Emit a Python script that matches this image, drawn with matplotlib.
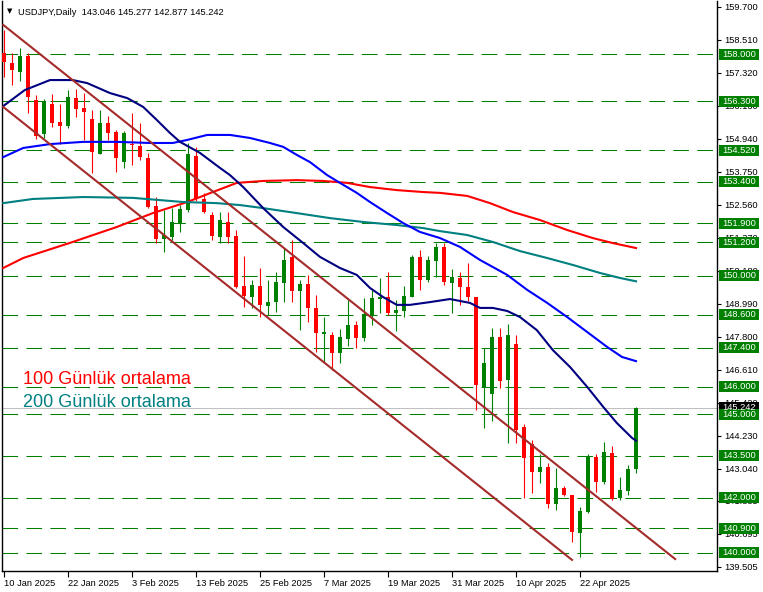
import matplotlib.pyplot as plt
import matplotlib.transforms as mtransforms
from matplotlib.patches import Rectangle

plt.rcParams['font.family'] = ['Liberation Sans', 'DejaVu Sans']

# daily candles, 10 Jan 2025 -> 1 May 2025 (bar index = trading day)
opens = [158.04, 157.68, 157.35, 157.93, 156.34, 155.11, 156.20, 155.55, 155.40, 156.41,
         156.05, 155.66, 154.39, 155.51, 155.19, 154.10, 154.72, 154.68, 154.25, 152.52,
         151.33, 151.40, 151.87, 152.37, 154.32, 152.77, 152.19, 151.40, 151.94, 151.43,
         149.63, 149.23, 149.63, 148.91, 149.05, 149.74, 150.68, 149.45, 149.70, 148.84,
         147.90, 147.86, 147.21, 147.72, 148.22, 147.75, 148.55, 149.16, 149.23, 148.66,
         148.73, 149.23, 150.68, 149.85, 150.53, 151.04, 149.74, 149.92, 149.59, 149.23,
         145.99, 145.73, 147.79, 146.24, 147.54, 144.54, 143.93, 142.92, 143.10, 141.77,
         142.34, 142.09, 140.72, 141.48, 143.46, 142.56, 143.61, 141.98, 142.24, 143.046]
highs = [158.87, 158.04, 158.22, 158.04, 156.52, 156.38, 156.56, 156.20, 156.70, 156.74,
         156.59, 155.98, 155.98, 155.76, 155.26, 155.22, 155.87, 155.51, 154.43, 152.84,
         152.37, 152.44, 152.55, 154.79, 154.65, 152.99, 152.30, 152.30, 152.30, 151.65,
         150.71, 149.85, 150.28, 149.85, 150.14, 151.00, 151.29, 149.85, 150.03, 149.31,
         148.51, 147.97, 148.08, 149.13, 148.37, 149.20, 149.49, 149.92, 150.14, 149.13,
         149.63, 150.75, 150.93, 150.71, 151.18, 151.18, 150.24, 150.14, 150.46, 149.23,
         147.39, 148.12, 148.12, 148.26, 147.86, 144.65, 144.07, 143.57, 143.25, 143.07,
         142.42, 142.09, 141.66, 143.57, 143.57, 144.00, 143.86, 142.74, 143.17, 145.277]
lows = [157.17, 156.88, 157.03, 155.87, 154.95, 154.97, 155.37, 154.75, 155.33, 155.73,
        154.90, 153.71, 154.39, 154.90, 153.74, 153.89, 154.00, 154.18, 152.44, 151.18,
        150.86, 151.29, 151.58, 152.30, 152.70, 152.26, 151.29, 151.18, 151.18, 149.56,
        148.87, 148.84, 148.51, 148.58, 148.69, 149.05, 149.05, 148.04, 148.33, 147.25,
        146.89, 146.60, 146.85, 147.47, 147.39, 147.65, 148.22, 148.66, 148.58, 147.99,
        148.51, 149.23, 149.49, 149.77, 149.96, 149.67, 148.66, 148.95, 149.09, 145.16,
        144.51, 144.76, 145.95, 143.97, 143.97, 141.98, 142.16, 142.52, 141.62, 141.55,
        142.05, 140.40, 139.85, 141.44, 142.20, 142.49, 141.91, 141.91, 142.09, 142.877]
closes = [157.71, 157.42, 157.93, 156.45, 155.04, 156.30, 155.51, 155.40, 156.45, 156.02,
          155.91, 154.46, 155.51, 155.15, 154.25, 155.15, 154.70, 154.28, 152.48, 151.33,
          151.47, 151.94, 152.41, 154.39, 152.77, 152.30, 151.43, 152.01, 151.40, 149.59,
          149.27, 149.67, 148.95, 149.05, 149.77, 150.57, 149.45, 149.70, 148.84, 147.94,
          147.97, 147.21, 147.79, 148.22, 147.75, 148.62, 149.20, 149.23, 148.66, 148.76,
          149.27, 150.68, 149.85, 150.57, 151.04, 149.77, 149.96, 149.59, 149.23, 146.06,
          146.85, 147.79, 146.20, 147.86, 144.44, 143.43, 142.92, 143.10, 141.77, 142.34,
          142.09, 140.76, 141.51, 143.46, 142.56, 143.64, 141.95, 142.27, 143.03, 145.242]
bars = list(range(len(opens)))

date_ticks = [0, 8, 16, 24, 32, 40, 48, 56, 64, 72]
date_labels = ['10 Jan 2025', '22 Jan 2025', '3 Feb 2025', '13 Feb 2025', '25 Feb 2025',
               '7 Mar 2025', '19 Mar 2025', '31 Mar 2025', '10 Apr 2025', '22 Apr 2025']

# moving averages (bar, price)
ma20_x = [-0.1, 2.6, 5.75, 8.6, 10.4, 13.25, 15.4, 17.4, 19.1, 20.75, 22, 24.5, 27, 28.25, 29.9,
          32.4, 34.9, 37.4, 39.5, 42, 44.1, 45.75, 47.4, 49.1, 50.75, 53.25, 55.75, 58.25, 59.5,
          61.1, 62.9, 64.5, 66.6, 68.6, 70.75, 72.9, 74.9, 76.6, 78.5, 79]
ma20_y = [156.12, 156.70, 157.06, 157.06, 156.95, 156.59, 156.41, 156.09, 155.62, 155.15, 154.83,
          154.43, 153.89, 153.63, 153.20, 152.44, 151.76, 151.18, 150.68, 150.28, 150.03, 149.56,
          149.23, 148.95, 148.95, 149.05, 149.16, 149.02, 148.84, 148.84, 148.73, 148.51, 148.04,
          147.32, 146.71, 145.99, 145.27, 144.69, 144.15, 144.05]
ma50_x = [-0.1, 2.4, 5.75, 9.9, 14.1, 18.25, 21.1, 22.9, 25.4, 28.25, 30.75, 33.25, 34.9, 36.6,
          38.25, 40.4, 42, 44.1, 45.75, 47.9, 49.9, 52, 54.5, 57, 59.5, 62.9, 65.4, 67.9, 70.4,
          72.9, 75.4, 77.25, 79]
ma50_y = [154.28, 154.61, 154.75, 154.83, 154.83, 154.79, 154.79, 154.90, 155.08, 155.08, 154.97,
          154.79, 154.65, 154.36, 154.10, 153.63, 153.35, 152.99, 152.66, 152.26, 151.90, 151.58,
          151.36, 151.04, 150.57, 150.03, 149.49, 149.02, 148.51, 147.97, 147.43, 147.07, 146.92]
ma100_x = [-0.1, 2.4, 8.6, 14.1, 18.6, 22.9, 26.1, 29.1, 32.4, 36.6, 39.9, 42.9, 45.75, 49.1,
           52.4, 54.5, 57.9, 60.75, 63.6, 67, 70.4, 73.6, 76.1, 79]
ma100_y = [150.28, 150.64, 151.22, 151.76, 152.26, 152.66, 153.02, 153.35, 153.42, 153.45, 153.42,
           153.35, 153.20, 153.09, 153.02, 152.99, 152.88, 152.62, 152.30, 152.01, 151.65, 151.36,
           151.18, 151.00]
ma200_x = [-0.1, 3.6, 9.9, 16.1, 22.4, 26.6, 29.5, 32.4, 36.6, 40.75, 44.9, 49.1, 52.4, 54.5,
           57.9, 61.1, 64.5, 67.9, 71.1, 74.5, 77, 79]
ma200_y = [152.62, 152.77, 152.84, 152.81, 152.66, 152.62, 152.55, 152.44, 152.26, 152.08, 151.94,
           151.83, 151.72, 151.61, 151.47, 151.22, 150.89, 150.64, 150.39, 150.10, 149.92, 149.80]

# trend channel (bar, price)
chan_top_x = [-0.1, 83.9]
chan_top_y = [159.05, 139.78]
chan_bot_x = [-0.1, 71.0]
chan_bot_y = [156.09, 139.75]

levels = [158.0, 156.3, 154.52, 153.4, 151.9, 151.2, 150.0, 148.6, 147.4, 146.0,
          145.0, 143.5, 142.0, 140.9, 140.0]
price_ticks = [159.700, 158.510, 157.320, 156.130, 154.940, 153.750, 152.560, 151.370, 150.180,
               148.990, 147.800, 146.610, 145.420, 144.230, 143.040, 141.885, 140.695, 139.505]
last_price = 145.242

green = '#008000'
red = '#FF0000'

fig = plt.figure(figsize=(7.63, 5.92), dpi=100)
ax = fig.add_axes([2 / 763, 21 / 592, 715 / 763, 570 / 592])
ax.set_xlim(-0.25, 89.125)
ax.set_ylim(139.349, 159.912)

# horizontal levels + current price line
for lv in levels:
    ax.axhline(lv, color=green, lw=0.75, ls=(0, (15, 8)), zorder=1)
ax.axhline(last_price, color='#C0C0C0', lw=0.75, zorder=1)

# candles
cols = [green if c >= o else red for o, c in zip(opens, closes)]
body_lo = [min(o, c) for o, c in zip(opens, closes)]
body_h = [max(abs(c - o), 0.04) for o, c in zip(opens, closes)]
ax.vlines(bars, lows, highs, colors=cols, lw=0.8, zorder=2)
ax.bar(bars, body_h, bottom=body_lo, width=0.62, color=cols, linewidth=0, zorder=3)

# moving averages
ax.plot(ma100_x, ma100_y, color='#FF0000', lw=1.5, zorder=4)
ax.plot(ma200_x, ma200_y, color='#008080', lw=1.5, zorder=4)
ax.plot(ma50_x, ma50_y, color='#0000FF', lw=1.5, zorder=4)
ax.plot(ma20_x, ma20_y, color='#000080', lw=1.5, zorder=4)

# channel
ax.plot(chan_top_x, chan_top_y, color='#A52A2A', lw=1.5, zorder=4)
ax.plot(chan_bot_x, chan_bot_y, color='#A52A2A', lw=1.5, zorder=4)

# axes look (MT4 style)
ax.spines['top'].set_visible(False)
for s in ['left', 'right', 'bottom']:
    ax.spines[s].set_linewidth(1.0)
ax.yaxis.tick_right()
ax.set_yticks(price_ticks)
ax.set_yticklabels([f'{v:.3f}' for v in price_ticks])
ax.tick_params(axis='y', length=3, width=0.8, pad=2, labelsize=6.7)
ax.set_xticks(date_ticks)
ax.set_xticklabels(date_labels, ha='left')
ax.tick_params(axis='x', length=4, width=0.8, pad=2, labelsize=6.7)

# price labels on the right
trans = mtransforms.blended_transform_factory(ax.transAxes, ax.transData)
box_x = (719 - 2) / 715
box_w = 40 / 715
box_h = 11 * (ax.get_ylim()[1] - ax.get_ylim()[0]) / 570


def price_box(val, fc):
    ax.add_patch(Rectangle((box_x, val - box_h / 2), box_w, box_h, transform=trans,
                           facecolor=fc, edgecolor='none', clip_on=False, zorder=5))
    ax.text(box_x + box_w / 2, val, f'{val:.3f}', transform=trans, ha='center', va='center',
            color='white', fontsize=6.7, clip_on=False, zorder=6)


price_box(last_price, 'black')
for lv in levels:
    price_box(lv, green)

# header + legend texts
fig.text(7 / 763, 1 - 11 / 592, '\u25bc', fontsize=5, color='black', va='center',
         family='DejaVu Sans')
fig.text(18 / 763, 1 - 15 / 592,
         f'USDJPY,Daily  {opens[-1]:.3f} {highs[-1]:.3f} {lows[-1]:.3f} {closes[-1]:.3f}',
         fontsize=6.7, color='black', va='baseline')
fig.text(23 / 763, 1 - 384 / 592, '100 Günlük ortalama', fontsize=13, color='#FF0000',
         va='baseline')
fig.text(23 / 763, 1 - 407 / 592, '200 Günlük ortalama', fontsize=13, color='#008080',
         va='baseline')

plt.savefig('out.png', dpi=100)
